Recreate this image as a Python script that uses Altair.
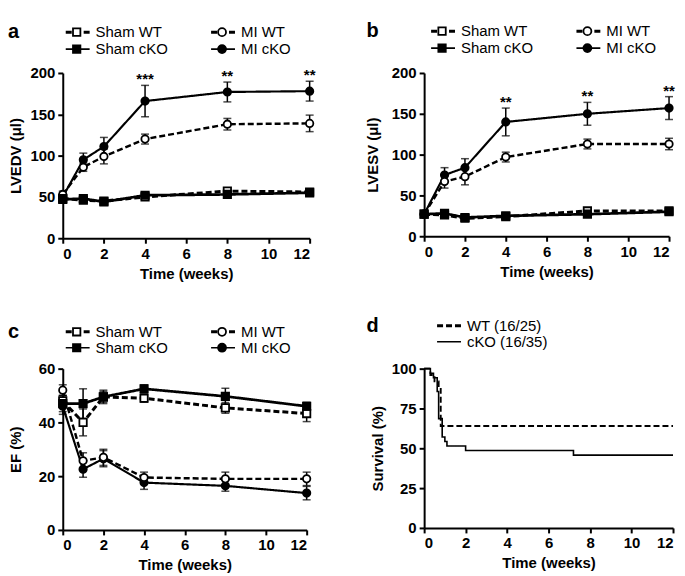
import altair as alt
import pandas as pd

FONT = "Liberation Sans"

weeks = [0, 1, 2, 4, 8, 12]
groups = ["MI cKO", "MI WT", "Sham WT", "Sham cKO"]  # draw order
legend_order = ["Sham WT", "Sham cKO", "MI WT", "MI cKO"]

# Panel a: LVEDV (ul)
lvedv_sham_wt = [48, 46, 45, 50, 57, 56]
lvedv_sham_wt_err = [3, 3, 2, 2, 2, 2]
lvedv_sham_cko = [47, 48, 44, 52, 53, 55]
lvedv_sham_cko_err = [3, 3, 2, 2, 2, 2]
lvedv_mi_wt = [53, 86, 99, 120, 138, 139]
lvedv_mi_wt_err = [4, 5, 9, 6, 7, 10]
lvedv_mi_cko = [50, 95, 111, 166, 177, 178]
lvedv_mi_cko_err = [4, 8, 11, 19, 12, 12]
lvedv_stars = ["", "", "", "***", "**", "**"]

# Panel b: LVESV (ul)
lvesv_sham_wt = [27, 26, 22, 24, 31, 31]
lvesv_sham_wt_err = [2, 2, 2, 2, 2, 2]
lvesv_sham_cko = [27, 28, 23, 25, 27, 30]
lvesv_sham_cko_err = [2, 4, 2, 2, 2, 2]
lvesv_mi_wt = [27, 67, 73, 97, 113, 113]
lvesv_mi_wt_err = [3, 8, 10, 6, 6, 7]
lvesv_mi_cko = [27, 75, 84, 140, 150, 157]
lvesv_mi_cko_err = [3, 9, 11, 17, 14, 14]
lvesv_stars = ["", "", "", "**", "**", "**"]

# Panel c: EF (%)
ef_sham_wt = [48, 40, 49.5, 49, 45.4, 43.3]
ef_sham_wt_err = [2, 5, 2.5, 1.5, 2, 3]
ef_sham_cko = [47, 47, 49.5, 52.5, 49.7, 46]
ef_sham_cko_err = [3, 5.5, 2, 1.5, 3, 1.5]
ef_mi_wt = [52, 25.7, 27, 19.5, 19, 19]
ef_mi_wt_err = [2, 3, 3, 2, 2.5, 2.5]
ef_mi_cko = [46, 22.6, 26.5, 17.6, 16.4, 13.7]
ef_mi_cko_err = [3, 3, 3, 2.5, 2, 2.5]
ef_stars = ["", "", "", "", "", ""]

# Panel d: survival (%)
wt_time = [0, 0.3, 0.5, 0.7, 0.8, 12]
wt_surv = [100, 96, 92, 88, 64, 64]
cko_time = [0, 0.3, 0.45, 0.63, 0.7, 0.87, 1.0, 1.1, 2.0, 7.2, 12]
cko_surv = [100, 97.1, 94.3, 85.7, 68.6, 57.1, 54.3, 51.4, 48.6, 45.7, 45.7]


def build_df(series, stars):
    rows = []
    for g in groups:
        mean, err = series[g]
        for i, w in enumerate(weeks):
            rows.append({
                "week": w, "group": g, "mean": mean[i],
                "lo": mean[i] - err[i], "hi": mean[i] + err[i],
                "star": stars[i] if g == "MI cKO" else "",
            })
    return pd.DataFrame(rows)


dash_scale = alt.Scale(domain=legend_order, range=[[6, 3], [1, 0], [6, 3], [1, 0]])
width_scale = alt.Scale(domain=legend_order, range=[3, 1.6, 3, 1.6])
shape_scale = alt.Scale(domain=legend_order, range=["square", "square", "circle", "circle"])
fill_scale = alt.Scale(domain=legend_order, range=["white", "black", "white", "black"])
size_scale = alt.Scale(domain=legend_order, range=[55, 55, 64, 64])

x_axis = alt.Axis(values=[0, 2, 4, 6, 8, 10, 12], title="Time (weeks)", titlePadding=5)


def legend_item(x0, y, label, dashed, shape=None, fill=None):
    base = alt.Chart(alt.Data(values=[{"k": 1}]))
    layers = [
        base.mark_rule(color="black", strokeWidth=3 if dashed else 1.6,
                       strokeDash=[6, 3] if dashed else [1, 0]).encode(
            x=alt.value(x0), x2=alt.value(x0 + 24), y=alt.value(y))
    ]
    if shape:
        layers.append(base.mark_point(shape=shape, filled=True, fill=fill, stroke="black",
                                      strokeWidth=1.8, size=55 if shape == "square" else 64,
                                      opacity=1).encode(x=alt.value(x0 + 11), y=alt.value(y)))
    layers.append(base.mark_text(align="left", baseline="middle", fontSize=15, font=FONT,
                                 color="black").encode(
        x=alt.value(x0 + 30), y=alt.value(y), text=alt.value(label)))
    return layers


def panel_letter(letter, x, y):
    return alt.Chart(alt.Data(values=[{"k": 1}])).mark_text(
        align="left", baseline="middle", fontSize=20, fontWeight="bold", font=FONT,
        color="black").encode(x=alt.value(x), y=alt.value(y), text=alt.value(letter))


def group_legend(dx, y1, y2):
    out = []
    out += legend_item(dx, y1, "Sham WT", True, "square", "white")
    out += legend_item(dx, y2, "Sham cKO", False, "square", "black")
    out += legend_item(dx + 146, y1, "MI WT", True, "circle", "white")
    out += legend_item(dx + 146, y2, "MI cKO", False, "circle", "black")
    return out


def line_panel(df, ymax, yticks, ytitle, w, h, letter, letter_x, title_x, leg_dx, leg_y1, leg_y2):
    base = alt.Chart(df)
    x = alt.X("week:Q", scale=alt.Scale(domain=[0, 12], nice=False), axis=x_axis)
    y_axis = alt.Axis(values=yticks, title=ytitle, titleX=title_x, titleBaseline="middle")
    y = alt.Y("mean:Q", scale=alt.Scale(domain=[0, ymax], nice=False), axis=y_axis)
    lines = base.mark_line(color="black").encode(
        x=x, y=y, detail="group:N",
        strokeDash=alt.StrokeDash("group:N", scale=dash_scale, legend=None),
        strokeWidth=alt.StrokeWidth("group:N", scale=width_scale, legend=None),
    )
    bars = base.mark_rule(color="black", strokeWidth=1.5).encode(
        x="week:Q", y="lo:Q", y2="hi:Q")
    cap_hi = base.mark_tick(orient="horizontal", size=8, thickness=1.5, color="black").encode(
        x="week:Q", y="hi:Q")
    cap_lo = base.mark_tick(orient="horizontal", size=8, thickness=1.5, color="black").encode(
        x="week:Q", y="lo:Q")
    pts = base.mark_point(filled=True, stroke="black", strokeWidth=1.8, opacity=1).encode(
        x="week:Q", y="mean:Q",
        shape=alt.Shape("group:N", scale=shape_scale, legend=None),
        fill=alt.Fill("group:N", scale=fill_scale, legend=None),
        size=alt.Size("group:N", scale=size_scale, legend=None),
    )
    stars = base.transform_filter(alt.datum.star != "").mark_text(
        fontSize=15, fontWeight="bold", font=FONT, baseline="alphabetic", dy=-1,
        color="black").encode(x="week:Q", y="hi:Q", text="star:N")
    layers = [lines, bars, cap_hi, cap_lo, pts, stars]
    layers += group_legend(leg_dx, leg_y1, leg_y2)
    layers.append(panel_letter(letter, letter_x, leg_y1))
    return alt.layer(*layers).properties(width=w, height=h)


def series(sw, swe, sc, sce, mw, mwe, mc, mce):
    return {"Sham WT": (sw, swe), "Sham cKO": (sc, sce), "MI WT": (mw, mwe), "MI cKO": (mc, mce)}


df_a = build_df(series(lvedv_sham_wt, lvedv_sham_wt_err, lvedv_sham_cko, lvedv_sham_cko_err,
                       lvedv_mi_wt, lvedv_mi_wt_err, lvedv_mi_cko, lvedv_mi_cko_err), lvedv_stars)
df_b = build_df(series(lvesv_sham_wt, lvesv_sham_wt_err, lvesv_sham_cko, lvesv_sham_cko_err,
                       lvesv_mi_wt, lvesv_mi_wt_err, lvesv_mi_cko, lvesv_mi_cko_err), lvesv_stars)
df_c = build_df(series(ef_sham_wt, ef_sham_wt_err, ef_sham_cko, ef_sham_cko_err,
                       ef_mi_wt, ef_mi_wt_err, ef_mi_cko, ef_mi_cko_err), ef_stars)

panel_a = line_panel(df_a, 200, [0, 50, 100, 150, 200], "LVEDV (μl)", 248, 166,
                     "a", -55, -47, 3, -41, -24)
panel_b = line_panel(df_b, 200, [0, 50, 100, 150, 200], "LVESV (μl)", 246, 164,
                     "b", -58, -52, 7, -42, -25)
panel_c = line_panel(df_c, 60, [0, 20, 40, 60], "EF (%)", 245, 162,
                     "c", -55, -47, 3, -37, -21)

# Panel d
surv_rows = []
for t, s in zip(wt_time, wt_surv):
    surv_rows.append({"time": t, "surv": s, "group": "WT (16/25)"})
for t, s in zip(cko_time, cko_surv):
    surv_rows.append({"time": t, "surv": s, "group": "cKO (16/35)"})
df_d = pd.DataFrame(surv_rows)

surv_lines = alt.Chart(df_d).mark_line(interpolate="step-after", color="black").encode(
    x=alt.X("time:Q", scale=alt.Scale(domain=[0, 12], nice=False), axis=x_axis),
    y=alt.Y("surv:Q", scale=alt.Scale(domain=[0, 100], nice=False),
            axis=alt.Axis(values=[0, 25, 50, 75, 100], title="Survival (%)", titleX=-47,
                          titleBaseline="middle")),
    detail="group:N",
    strokeDash=alt.StrokeDash("group:N", scale=alt.Scale(domain=["WT (16/25)", "cKO (16/35)"],
                                                         range=[[6, 3], [1, 0]]), legend=None),
    strokeWidth=alt.StrokeWidth("group:N", scale=alt.Scale(domain=["WT (16/25)", "cKO (16/35)"],
                                                           range=[3, 1.8]), legend=None),
)
d_layers = [surv_lines]
d_layers += legend_item(13, -43, "WT (16/25)", True)
d_layers += legend_item(13, -27, "cKO (16/35)", False)
d_layers.append(panel_letter("d", -58, -43))
panel_d = alt.layer(*d_layers).properties(width=250, height=160)

chart = alt.concat(panel_a, panel_b, panel_c, panel_d, columns=2,
                   spacing=alt.RowColnumber(row=131, column=115) if hasattr(alt, "RowColnumber") else {"row": 131, "column": 115},
                   bounds="flush").properties(
    padding={"left": 0, "top": 12, "right": 0, "bottom": 0}
).configure_view(stroke=None).configure_axis(
    labelFont=FONT, labelFontSize=15, labelFontWeight="bold", labelColor="black",
    labelPadding=3,
    titleFont=FONT, titleFontSize=15, titleFontWeight="bold", titleColor="black",
    domainColor="black", domainWidth=2, tickColor="black", tickWidth=2, tickSize=5,
    grid=False,
)

chart.save("out.html", embed_options={"renderer": "svg", "actions": False})
